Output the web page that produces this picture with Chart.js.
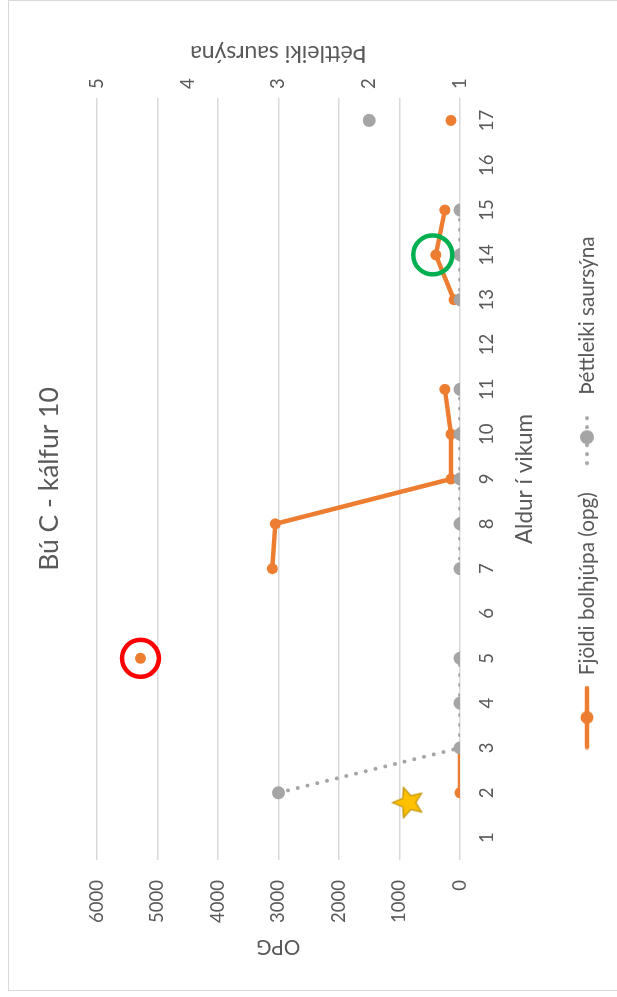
<!DOCTYPE html>
<html>
<head>
<meta charset="utf-8">
<title>Bú C - kálfur 10</title>
<script src="https://cdn.jsdelivr.net/npm/chart.js@4.4.1/dist/chart.umd.min.js"></script>
<style>
	html, body { margin: 0; padding: 0; background: #fff; overflow: hidden; }
	body { width: 617px; height: 997px; position: relative; }
	#frame { position: absolute; left: 8px; top: 0; width: 700px; height: 991px; border: 1.5px solid #d9d9d9; box-sizing: border-box; }
	/* chart is laid out landscape and turned a quarter to the left */
	#wrap { position: absolute; left: 0; top: 997px; width: 1036px; height: 617px; transform-origin: 0 0; transform: rotate(-90deg); }
	#wrap canvas { display: block; }
</style>
</head>
<body>
<div id="frame"></div>
<div id="wrap"><canvas id="chart" width="1036" height="617"></canvas></div>
<script>
/* data */
const weeks = ['1', '2', '3', '4', '5', '6', '7', '8', '9', '10', '11', '12', '13', '14', '15', '16', '17'];
const opg = [null, 0, 0, null, 5280, null, 3100, 3050, 150, 150, 250, null, 100, 400, 250, null, 150];
const density = [null, 3, 1, 1, 1, null, 1, 1, 1, 1, 1, null, 1, 1, 1, null, 2];
const opgRange = [0, 6000, 1000];
const densityRange = [1, 5, 1];

// marked spots (week, opg)
const redRing = [{ x: 5, y: 5280 }];
const greenRing = [{ x: 14, y: 450 }];
const starSpot = [{ x: 1.78, y: 850 }];

const ORANGE = '#ED7D31';
const GREY = '#A5A5A5';
const TEXT = '#595959';
const FONT = 'Lato, "Open Sans", sans-serif';

function makeStar(r) {
	const c = document.createElement('canvas');
	const size = Math.ceil(r * 2 + 4);
	c.width = c.height = size;
	const g = c.getContext('2d');
	g.translate(size / 2, size / 2);
	g.beginPath();
	for (let i = 0; i < 10; i++) {
		const rad = i % 2 ? r * 0.45 : r;
		const a = -Math.PI / 2 + i * Math.PI / 5;
		g.lineTo(rad * Math.cos(a), rad * Math.sin(a));
	}
	g.closePath();
	g.fillStyle = '#FFC000';
	g.fill();
	g.strokeStyle = '#BF9000';
	g.lineWidth = 1.2;
	g.stroke();
	return c;
}

function legendIcon(color, lineW, len, dash, dotR) {
	const c = document.createElement('canvas');
	c.width = 64;
	c.height = 18;
	const g = c.getContext('2d');
	const x0 = (64 - len) / 2;
	g.strokeStyle = color;
	g.lineWidth = lineW;
	g.lineCap = 'round';
	g.setLineDash(dash);
	g.beginPath();
	g.moveTo(x0 + 2, 9);
	g.lineTo(x0 + len - 2, 9);
	g.stroke();
	g.setLineDash([]);
	g.fillStyle = color;
	g.beginPath();
	g.arc(32, 9, dotR, 0, Math.PI * 2);
	g.fill();
	return c;
}

const orangeIcon = legendIcon(ORANGE, 4.5, 63, [], 6.5);
const greyIcon = legendIcon(GREY, 4, 56, [0, 9], 7);

// second axis title reads the other way round
const sideTitle = {
	id: 'sideTitle',
	afterDraw(chart) {
		const { ctx, chartArea } = chart;
		ctx.save();
		ctx.translate(chartArea.right + 45, (chartArea.top + chartArea.bottom) / 2);
		ctx.rotate(-Math.PI / 2);
		ctx.font = '23px ' + FONT;
		ctx.fillStyle = TEXT;
		ctx.textAlign = 'center';
		ctx.textBaseline = 'middle';
		ctx.fillText('Þéttleiki saursýna', 0, 0);
		ctx.restore();
	}
};

// legend sits a little left of the middle
const legendNudge = {
	id: 'legendNudge',
	afterLayout(chart) {
		chart.legend.left -= 14;
		chart.legend.right -= 14;
	}
};

const plainNumber = (v) => String(v);

new Chart(document.getElementById('chart'), {
	type: 'line',
	data: {
		labels: weeks,
		datasets: [
			{
				label: 'Fjöldi bolhjúpa (opg)',
				data: opg,
				yAxisID: 'y',
				order: 2,
				borderColor: ORANGE,
				backgroundColor: ORANGE,
				borderWidth: 4.5,
				pointRadius: 5.5,
				pointBorderWidth: 0,
				pointBackgroundColor: ORANGE,
				tension: 0
			},
			{
				label: 'Þéttleiki saursýna',
				data: density,
				yAxisID: 'y2',
				order: 1,
				borderColor: GREY,
				backgroundColor: GREY,
				borderWidth: 4,
				borderDash: [0, 10],
				borderCapStyle: 'round',
				pointRadius: 6.5,
				pointBorderWidth: 0,
				pointBackgroundColor: GREY,
				tension: 0
			},
			{
				type: 'scatter',
				data: redRing,
				xAxisID: 'xa',
				yAxisID: 'y',
				order: 0,
				pointRadius: 18.5,
				pointBorderWidth: 4.5,
				pointBorderColor: '#FF0000',
				pointBackgroundColor: 'rgba(0,0,0,0)'
			},
			{
				type: 'scatter',
				data: greenRing,
				xAxisID: 'xa',
				yAxisID: 'y',
				order: 0,
				pointRadius: 19.5,
				pointBorderWidth: 4.5,
				pointBorderColor: '#00B050',
				pointBackgroundColor: 'rgba(0,0,0,0)'
			},
			{
				type: 'scatter',
				data: starSpot,
				xAxisID: 'xa',
				yAxisID: 'y',
				order: 0,
				pointStyle: makeStar(16),
				pointRadius: 16
			}
		]
	},
	options: {
		responsive: false,
		animation: false,
		events: [],
		layout: { padding: { left: 0, right: 0, top: 0, bottom: 9.65 } },
		scales: {
			x: {
				type: 'category',
				offset: true,
				grid: { display: false, drawTicks: false },
				border: { display: false },
				ticks: { color: TEXT, font: { family: FONT, size: 18.5 }, padding: 16, maxRotation: 0, autoSkip: false },
				title: { display: true, text: 'Aldur í vikum', color: TEXT, font: { family: FONT, size: 22.5 }, padding: { top: 0, bottom: 15.15 } },
				afterFit: (s) => { s.height = 93.65; }
			},
			xa: {
				type: 'linear',
				display: false,
				min: 0.5,
				max: 17.5
			},
			y: {
				position: 'left',
				min: opgRange[0],
				max: opgRange[1],
				grid: { color: '#D9D9D9', lineWidth: 1.5, drawTicks: false },
				border: { display: false },
				ticks: { stepSize: opgRange[2], callback: plainNumber, color: TEXT, font: { family: FONT, size: 18.5 }, padding: 20 },
				title: { display: true, text: 'OPG', color: TEXT, font: { family: FONT, size: 20.5 }, padding: { top: 37.7, bottom: 0 } },
				afterFit: (s) => { s.width = 137; }
			},
			y2: {
				position: 'right',
				min: densityRange[0],
				max: densityRange[1],
				grid: { display: false, drawTicks: false },
				border: { display: false },
				ticks: { stepSize: densityRange[2], callback: plainNumber, color: TEXT, font: { family: FONT, size: 18.5 }, padding: 9 },
				afterFit: (s) => { s.width = 137; }
			}
		},
		plugins: {
			tooltip: { enabled: false },
			title: {
				display: true,
				text: 'Bú C - kálfur 10',
				color: TEXT,
				font: { family: FONT, size: 26.5, weight: 'normal' },
				padding: { top: 34, bottom: 31 }
			},
			legend: {
				position: 'bottom',
				labels: {
					usePointStyle: true,
					pointStyleWidth: 64,
					padding: 23,
					color: TEXT,
					font: { family: FONT, size: 20.7 },
					generateLabels: () => [
						{ text: 'Fjöldi bolhjúpa (opg)', pointStyle: orangeIcon, fontColor: TEXT, lineWidth: 0, hidden: false, datasetIndex: 0 },
						{ text: 'Þéttleiki saursýna', pointStyle: greyIcon, fontColor: TEXT, lineWidth: 0, hidden: false, datasetIndex: 1 }
					]
				}
			}
		}
	},
	plugins: [sideTitle, legendNudge]
});
</script>
</body>
</html>
